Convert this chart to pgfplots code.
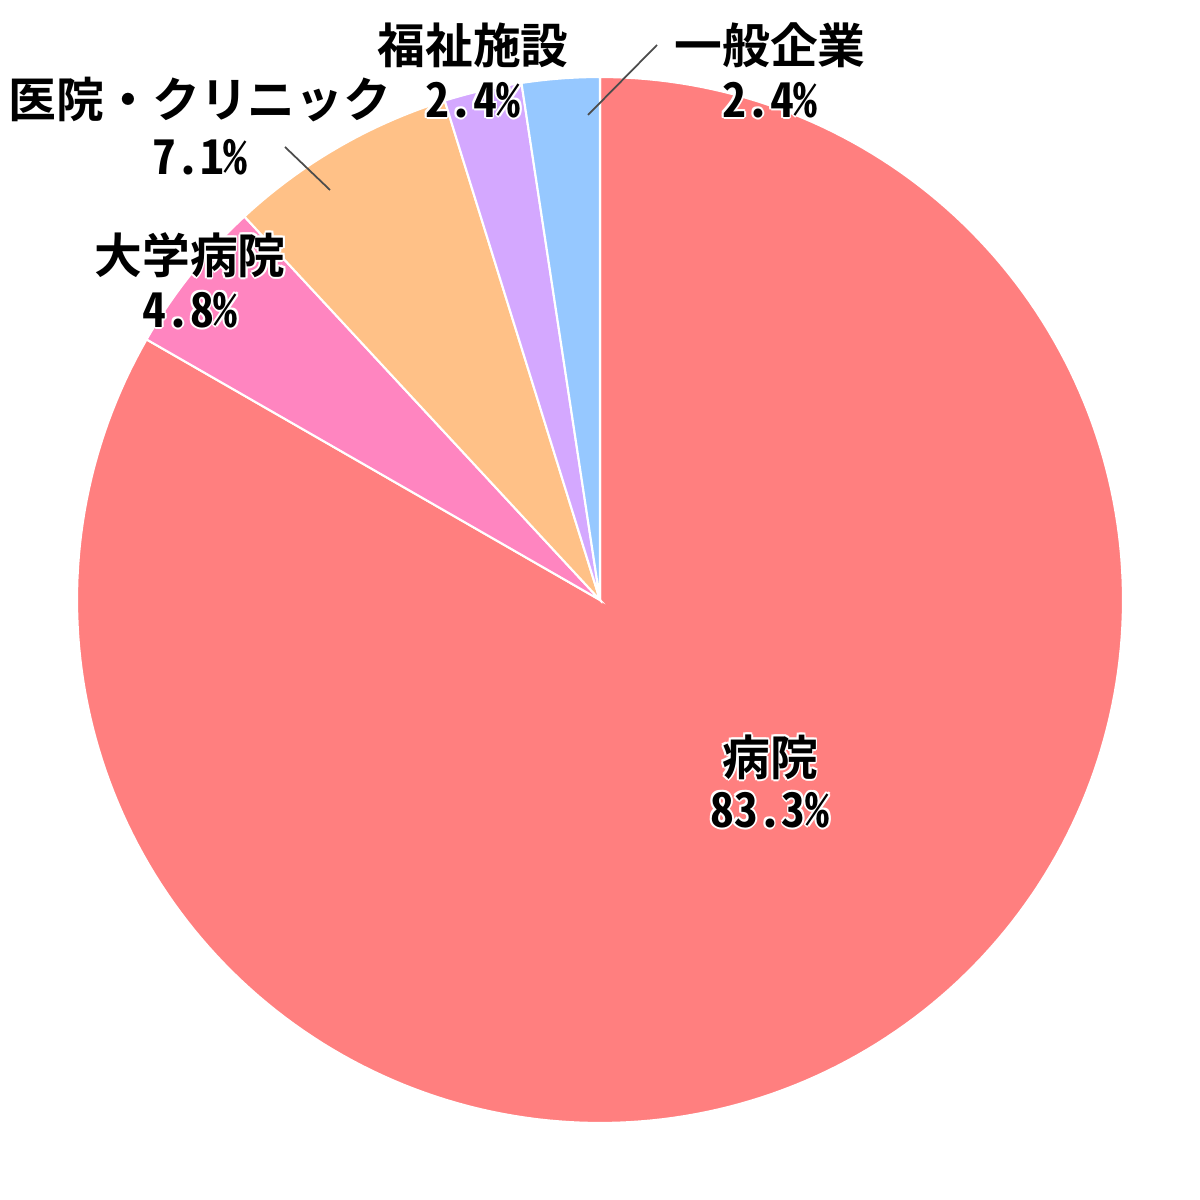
\documentclass[border=0pt]{standalone}
\usepackage{fontspec}
\setmainfont{Noto Sans Mono CJK JP}
\usepackage{pgfplots}
\pgfplotsset{compat=1.18}
\definecolor{cA}{HTML}{FF7F7F}
\definecolor{cB}{HTML}{FF85C0}
\definecolor{cC}{HTML}{FFC187}
\definecolor{cD}{HTML}{D4A8FF}
\definecolor{cE}{HTML}{96C8FF}
\def\hoff{0.55pt}
\def\hdg{0.4pt}
\newcommand\halotext[1]{%
 \rlap{\color{white}\hspace{\hoff}#1}%
 \rlap{\color{white}\hspace{-\hoff}#1}%
 \rlap{\color{white}\raisebox{\hoff}{#1}}%
 \rlap{\color{white}\raisebox{-\hoff}{#1}}%
 \rlap{\color{white}\hspace{\hdg}\raisebox{\hdg}{#1}}%
 \rlap{\color{white}\hspace{-\hdg}\raisebox{\hdg}{#1}}%
 \rlap{\color{white}\hspace{\hdg}\raisebox{-\hdg}{#1}}%
 \rlap{\color{white}\hspace{-\hdg}\raisebox{-\hdg}{#1}}%
 #1}
\tikzset{lbl/.style={font=\fontsize{13.6}{16}\selectfont\bfseries, inner sep=0pt, anchor=center}}
% values (percent)
\def\vA{83.3}
\def\vB{4.8}
\def\vC{7.1}
\def\vD{2.4}
\def\vE{2.4}
\def\R{523}
\begin{document}
\begin{tikzpicture}
\begin{axis}[
  scale only axis, width=12cm, height=12cm,
  xmin=-600, xmax=600, ymin=-600, ymax=600,
  hide axis, clip=false,
  every axis plot/.append style={draw=white, line width=0.6pt},
]
\addplot[fill=cA, domain={90-3.6*\vA}:90, samples=240, variable=\t]
  ({\R*cos(\t)},{\R*sin(\t)}) -- (axis cs:0,0) -- cycle;
\addplot[fill=cB, domain={90-3.6*(\vA+\vB)}:{90-3.6*\vA}, samples=20, variable=\t]
  ({\R*cos(\t)},{\R*sin(\t)}) -- (axis cs:0,0) -- cycle;
\addplot[fill=cC, domain={90-3.6*(\vA+\vB+\vC)}:{90-3.6*(\vA+\vB)}, samples=30, variable=\t]
  ({\R*cos(\t)},{\R*sin(\t)}) -- (axis cs:0,0) -- cycle;
\addplot[fill=cD, domain={90-3.6*(\vA+\vB+\vC+\vD)}:{90-3.6*(\vA+\vB+\vC)}, samples=12, variable=\t]
  ({\R*cos(\t)},{\R*sin(\t)}) -- (axis cs:0,0) -- cycle;
\addplot[fill=cE, domain={90-3.6*(\vA+\vB+\vC+\vD+\vE)}:{90-3.6*(\vA+\vB+\vC+\vD)}, samples=12, variable=\t]
  ({\R*cos(\t)},{\R*sin(\t)}) -- (axis cs:0,0) -- cycle;
% leader lines
\draw[black!70, line width=0.5pt] (axis cs:-12,485) -- (axis cs:57,555);
\draw[black!70, line width=0.5pt] (axis cs:-315,453) -- (axis cs:-270,410);
% labels
\node[lbl] at (axis cs:170,-157) {\halotext{病院}};
\node[lbl] at (axis cs:170,-210) {\halotext{83.3\%}};
\node[lbl] at (axis cs:-410,345) {\halotext{大学病院}};
\node[lbl] at (axis cs:-410,290) {\halotext{4.8\%}};
\node[lbl] at (axis cs:-400,500) {\halotext{医院・クリニック}};
\node[lbl] at (axis cs:-400,443) {\halotext{7.1\%}};
\node[lbl] at (axis cs:-127,555) {\halotext{福祉施設}};
\node[lbl] at (axis cs:-127,500) {\halotext{2.4\%}};
\node[lbl] at (axis cs:170,555) {\halotext{一般企業}};
\node[lbl] at (axis cs:170,500) {\halotext{2.4\%}};
\end{axis}
\pgfresetboundingbox
\path[use as bounding box] (current axis.south west) rectangle (current axis.north east);
\end{tikzpicture}
\end{document}
